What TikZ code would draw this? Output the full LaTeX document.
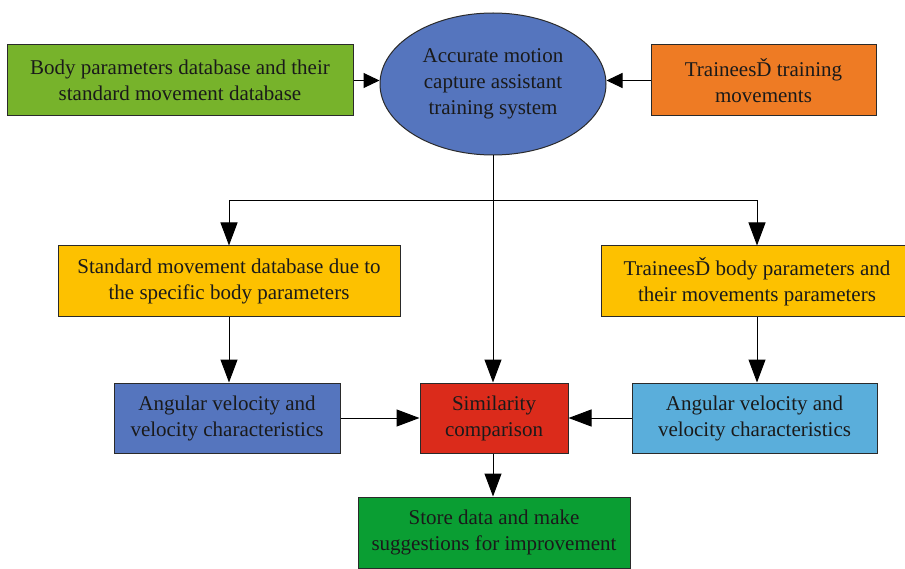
\documentclass[tikz,border=0pt]{standalone}
\usepackage{fontspec}
\setmainfont{Liberation Serif}
\usetikzlibrary{arrows.meta,shapes.geometric}
\definecolor{cgreenA}{HTML}{77B32B}
\definecolor{cblue}{HTML}{5575BE}
\definecolor{corange}{HTML}{EE7B24}
\definecolor{cyellow}{HTML}{FDC100}
\definecolor{cred}{HTML}{DB2B1B}
\definecolor{clblue}{HTML}{5AAEDB}
\definecolor{cgreenB}{HTML}{0A9E33}
\definecolor{cborder}{HTML}{2A2A2A}
\definecolor{ctext}{HTML}{1A1A1A}
\tikzset{
  boxnode/.style={draw=cborder, line width=1pt, inner sep=0pt, align=center,
    text=ctext, font=\fontsize{21}{26}\selectfont},
  bigarrow/.style={-{Triangle[length=23pt,width=17pt]}, line width=1pt},
  smallarrow/.style={-{Triangle[length=16pt,width=15pt]}, line width=1pt},
}
\begin{document}
\begin{tikzpicture}[x=1pt,y=-1pt]
\useasboundingbox (0,0) rectangle (905,569);
\node[boxnode, fill=cgreenA, minimum width=346pt, minimum height=71pt] (bodydb) at (180,80.5)
  {Body parameters database and their\\standard movement database};
\node[boxnode, ellipse, fill=cblue, minimum width=226pt, minimum height=142pt] (sys) at (493,84)
  {Accurate motion\\capture assistant\\training system};
\node[boxnode, fill=corange, minimum width=225pt, minimum height=71pt] (trmov) at (763.5,80.5)
  {TraineesĎ training\\movements};
\node[boxnode, fill=cyellow, minimum width=342pt, minimum height=71pt] (stdmov) at (229,281.5)
  {Standard movement database due to\\the specific body parameters};
\node[boxnode, fill=cyellow, minimum width=312pt, minimum height=71pt] (trbody) at (757,281.5)
  {TraineesĎ body parameters and\\their movements parameters};
\node[boxnode, fill=cblue, minimum width=226pt, minimum height=70pt] (angL) at (227,418)
  {Angular velocity and\\velocity characteristics};
\node[boxnode, fill=cred, minimum width=148pt, minimum height=70pt] (sim) at (494,418)
  {Similarity\\comparison};
\node[boxnode, fill=clblue, minimum width=245pt, minimum height=70pt] (angR) at (754.5,418)
  {Angular velocity and\\velocity characteristics};
\node[boxnode, fill=cgreenB, minimum width=272pt, minimum height=71pt] (store) at (494,532.5)
  {Store data and make\\suggestions for improvement};
\coordinate (split) at (493,201);
\draw[smallarrow] (bodydb.east) -- (sys.west |- bodydb.east);
\draw[smallarrow] (trmov.west) -- (sys.east |- trmov.west);
\draw[line width=1pt] (sys.south) -- (split);
\draw[bigarrow] (split) -| (stdmov.north);
\draw[bigarrow] (split) -| (trbody.north);
\draw[bigarrow] (split) -- (sim.north -| split);
\draw[bigarrow] (stdmov.south) -- (angL.north -| stdmov.south);
\draw[bigarrow] (trbody.south) -- (angR.north -| trbody.south);
\draw[bigarrow] (angL.east) -- (sim.west);
\draw[bigarrow] (angR.west) -- (sim.east);
\draw[bigarrow] (sim.south -| split) -- (store.north -| split);
\end{tikzpicture}
\end{document}
